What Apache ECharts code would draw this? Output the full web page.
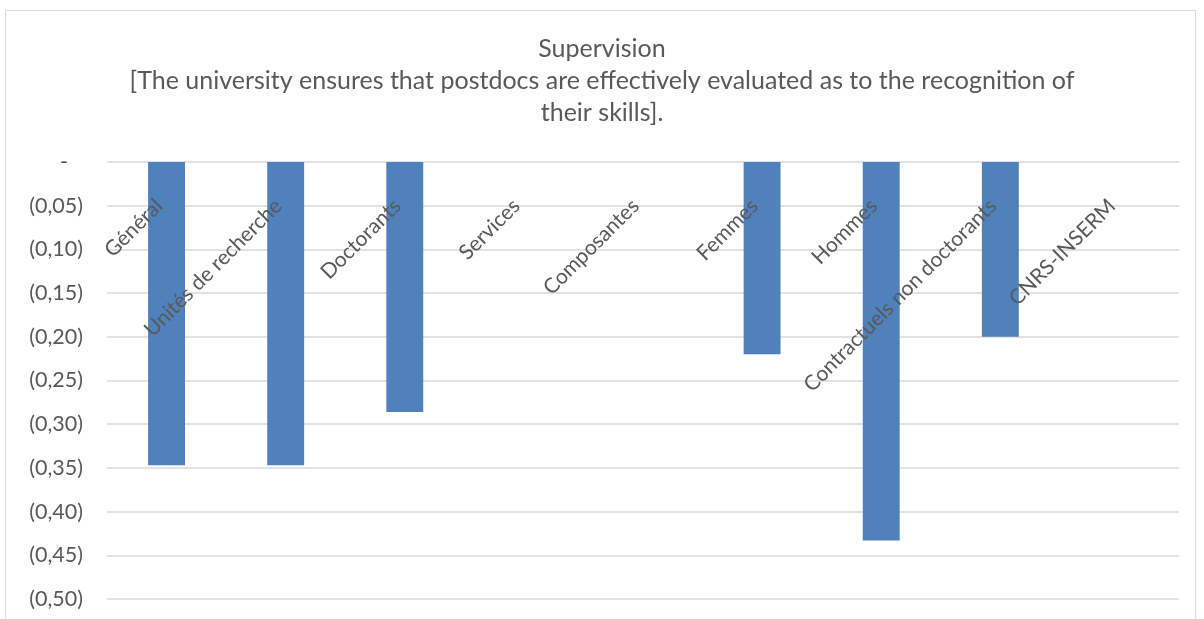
<!DOCTYPE html>
<html>
<head>
<meta charset="utf-8">
<script src="https://cdn.jsdelivr.net/npm/echarts@6/dist/echarts.min.js"></script>
<style>html,body{margin:0;padding:0;background:#fff;}#c{width:1204px;height:619px;}</style>
</head>
<body>
<div id="c"></div>
<script>
const titleLines = ["Supervision", "[The university ensures that postdocs are effectively evaluated as to the recognition of", "their skills]."];
const categories = ["Général", "Unités de recherche", "Doctorants", "Services", "Composantes", "Femmes", "Hommes", "Contractuels non doctorants", "CNRS-INSERM"];
const values = [-0.347, -0.347, -0.286, 0, 0, -0.22, -0.433, -0.20, 0];
const yMin = -0.5, yMax = 0, yStep = 0.05;

const FONT = "Lato";
const chart = echarts.init(document.getElementById('c'));
chart.setOption({
  animation: false,
  textStyle: { fontFamily: FONT },
  graphic: [{
    type: 'rect', shape: { x: 5.5, y: 10.5, width: 1190, height: 640 },
    style: { fill: 'none', stroke: '#d9d9d9', lineWidth: 1 }, silent: true, z: -1
  }],
  title: {
    text: titleLines.join('\n'),
    left: 'center', top: 28,
    textStyle: { fontFamily: FONT, fontWeight: 'normal', fontSize: 25, color: '#595959', lineHeight: 32 }
  },
  grid: { left: 107, right: 25, top: 162, bottom: 20, containLabel: false },
  xAxis: {
    type: 'category', data: categories, position: 'top', z: 10,
    axisLine: { show: false }, axisTick: { show: false },
    axisLabel: { inside: true, rotate: 45, margin: 48, interval: 0, verticalAlign: 'bottom', align: 'right',
      fontSize: 21, color: '#595959', fontFamily: FONT }
  },
  yAxis: {
    type: 'value', min: yMin, max: yMax, interval: yStep,
    axisLine: { show: false }, axisTick: { show: false },
    splitLine: { lineStyle: { color: '#d9d9d9', width: 1.5 } },
    axisLabel: {
      margin: 24, fontSize: 21.5, color: '#595959', fontFamily: FONT,
      formatter: v => Math.abs(v) < 1e-9 ? '{z|-}' : '(' + Math.abs(v).toFixed(2).replace('.', ',') + ')',
      rich: { z: { fontSize: 21.5, color: '#595959', fontFamily: FONT, padding: [0, 15, 0, 0] } }
    }
  },
  series: [{
    type: 'bar', data: values, barWidth: '31%', z: 2,
    itemStyle: { color: '#4f81bd' }
  }]
});
</script>
</body>
</html>
